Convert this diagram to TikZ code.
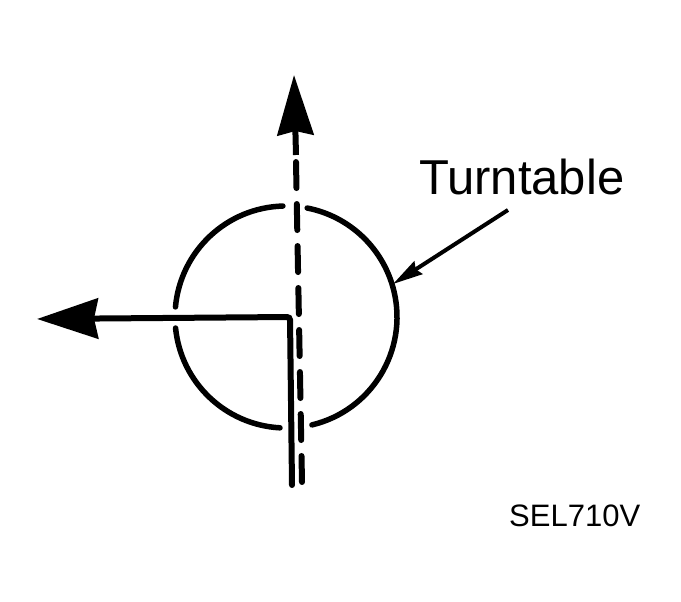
\documentclass[tikz,border=0pt]{standalone}
\usepackage{fontspec}
\setmainfont{Liberation Sans}
\usetikzlibrary{arrows.meta}
\begin{document}
\begin{tikzpicture}[x=1pt,y=1pt,
  ring/.style={line width=5.5pt, line cap=round},
  solidline/.style={line width=6pt, line cap=round, rounded corners=3pt},
  dashline/.style={line width=6pt, line cap=round, dash pattern=on 26pt off 16pt},
  bigtip/.style={-{Stealth[length=61pt, width=40pt, inset=4pt]}},
  uptip/.style={-{Stealth[length=60pt, width=36pt, inset=4pt]}},
  leader/.style={line width=4pt, -{Stealth[length=30pt, width=15pt, inset=3pt]}},
  lbl/.style={inner sep=0pt, anchor=base west}]
\useasboundingbox (0,0) rectangle (681,602);
\coordinate (c) at (286,285);
% turntable circle with gaps
\draw[ring] (c) ++(91.6:111) arc[start angle=91.6, end angle=174.8, radius=111];
\draw[ring] (c) ++(185.7:111) arc[start angle=185.7, end angle=266.9, radius=111];
\draw[ring] (c) ++(283.5:111) arc[start angle=283.5, end angle=439, radius=111];
% dashed straight-ahead path
\coordinate (vb) at (302,120);
\coordinate (vt) at (296,440);
\coordinate (vs) at (296,447);
\coordinate (vtip) at (294,527);
\draw[dashline] (vb) -- (vt);
\draw[line width=6pt, uptip] (vs) -- (vtip);
% solid L-shaped path
\coordinate (lb) at (292,117);
\coordinate (lc) at (290,285);
\coordinate (ltip) at (37,283);
\draw[solidline, bigtip] (lb) -- (lc) -- (ltip);
% labels
\node[lbl, font=\fontsize{49}{55}\selectfont] (tt) at (419,407) {Turntable};
\node[lbl, font=\fontsize{31}{36}\selectfont] (code) at (509,75) {SEL710V};
\coordinate (ls) at (508,392);
\coordinate (le) at (393,318);
\draw[leader] (ls) -- (le);
\end{tikzpicture}
\end{document}
